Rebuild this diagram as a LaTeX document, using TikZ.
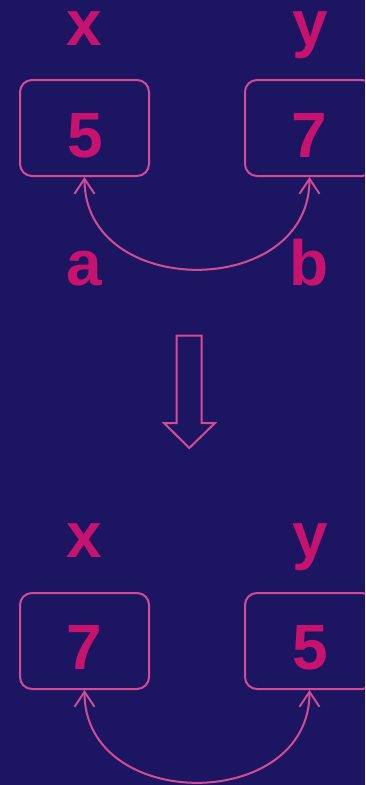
\documentclass[tikz,border=0pt]{standalone}
\usepackage{fontspec}
\setmainfont{Liberation Sans}
\usetikzlibrary{arrows.meta}
\definecolor{bg}{HTML}{1C1562}
\definecolor{txt}{HTML}{C8126F}
\definecolor{ln}{HTML}{D34B95}
\begin{document}
\begin{tikzpicture}[x=1pt,y=1pt,
  box/.style={draw=ln,line width=2pt,rounded corners=12pt,minimum width=129pt,minimum height=96pt,inner sep=0pt},
  lbl/.style={text=txt,font=\fontsize{64}{64}\selectfont\bfseries,anchor=base,inner sep=0pt},
  swap/.style={draw=ln,line width=2pt,{Straight Barb[length=15pt,width=20pt]}-{Straight Barb[length=15pt,width=20pt]}},
  bigarrow/.style={draw=ln,line width=2pt,line join=miter}]
\fill[bg] (0,0) rectangle (365,-785);
\useasboundingbox (0,0) rectangle (365,-785);
\clip (0,0) rectangle (365,-785);
% top
\node[box] (b1) at (84.5,-128) {};
\node[box] (b2) at (309.5,-128) {};
\node[lbl] (x1) at (84,-45) {x};
\node[lbl] (y1) at (310,-45) {y};
\node[lbl] (v1) at (85,-157) {5};
\node[lbl] (w1) at (309,-157) {7};
\node[lbl] (a1) at (84,-285) {a};
\node[lbl] (c1) at (309,-285) {b};
\draw[swap] (b1.south) to[out=-90,in=-90,looseness=1.4] (b2.south);
% big arrow
\draw[bigarrow] (176.7,-335.7) -- (201.7,-335.7) -- (201.7,-423) -- (215,-423) -- (189.3,-448) -- (164,-423) -- (176.7,-423) -- cycle;
% bottom
\node[box] (b3) at (84.5,-641) {};
\node[box] (b4) at (309.5,-641) {};
\node[lbl] (x2) at (84,-557) {x};
\node[lbl] (y2) at (310,-557) {y};
\node[lbl] (v2) at (84,-669) {7};
\node[lbl] (w2) at (310,-669) {5};
\draw[swap] (b3.south) to[out=-90,in=-90,looseness=1.4] (b4.south);
\end{tikzpicture}
\end{document}
